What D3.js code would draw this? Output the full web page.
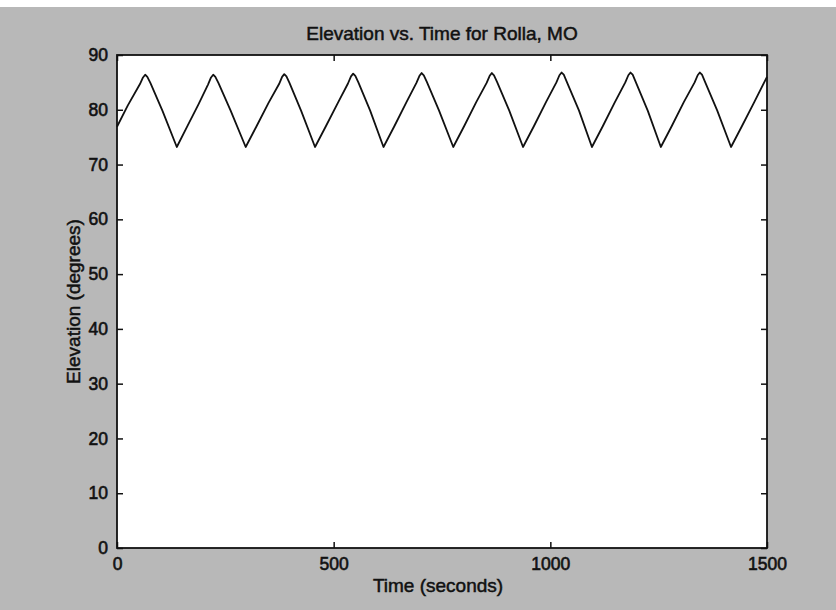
<!DOCTYPE html>
<html>
<head>
<meta charset="utf-8">
<script src="https://cdn.jsdelivr.net/npm/d3@7"></script>
<style>
    body { margin: 0; background: #ffffff; }
    text { font-family: "Liberation Sans", Arial, sans-serif; fill: #111; }
</style>
</head>
<body>
<div id="chart"></div>
<script>
// elevation, seconds vs degrees
var timeSec = [0, 25, 53, 60, 65, 70, 77, 105, 138,
    163, 188, 210, 217, 222, 227, 234, 262, 297,
    322, 350, 374, 381, 386, 391, 398, 425, 457,
    482, 510, 533, 540, 545, 550, 557, 584, 615,
    640, 668, 691, 698, 703, 708, 715, 743, 776,
    801, 829, 853, 860, 865, 870, 877, 905, 937,
    962, 990, 1014, 1021, 1026, 1031, 1038, 1066, 1096,
    1121, 1149, 1173, 1180, 1185, 1190, 1197, 1225, 1255,
    1280, 1308, 1333, 1340, 1345, 1350, 1357, 1385, 1417,
    1442, 1470, 1500];
var elevation = [76.9, 80.8, 84.7, 85.9, 86.4, 86.0, 84.9, 79.8, 73.2,
    77.1, 81.0, 84.6, 85.9, 86.4, 86.0, 84.9, 79.9, 73.2,
    77.0, 81.3, 84.7, 86.0, 86.5, 86.1, 84.9, 79.8, 73.2,
    77.0, 81.3, 84.8, 86.1, 86.6, 86.2, 85.0, 79.9, 73.2,
    77.0, 81.4, 84.9, 86.2, 86.7, 86.3, 85.1, 79.9, 73.2,
    77.0, 81.4, 84.9, 86.2, 86.7, 86.3, 85.1, 79.9, 73.2,
    77.0, 81.4, 85.0, 86.3, 86.8, 86.4, 85.1, 79.9, 73.2,
    77.0, 81.4, 85.0, 86.3, 86.8, 86.4, 85.1, 79.8, 73.2,
    77.0, 81.4, 85.0, 86.3, 86.8, 86.4, 85.1, 79.9, 73.2,
    77.0, 81.3, 86.0];

var xTicks = [0, 500, 1000, 1500];
var yTicks = [0, 10, 20, 30, 40, 50, 60, 70, 80, 90];

var data = timeSec.map(function (t, i) {
    return {t: t, e: elevation[i]};
});

var W = 836, H = 610;
var margin = {top: 55, right: 69, bottom: 62, left: 117},
    width = W - margin.left - margin.right,
    height = H - margin.top - margin.bottom;

var svg = d3.select("#chart")
    .append("svg")
    .attr("width", W)
    .attr("height", H);

// grey figure background (white strip at the very top of the scan)
svg.append("rect")
    .attr("x", 0).attr("y", 7)
    .attr("width", W).attr("height", H - 7)
    .attr("fill", "#b8b8b8");

var g = svg.append("g")
    .attr("transform", "translate(" + margin.left + "," + margin.top + ")");

var x = d3.scaleLinear().domain([0, 1500]).range([0, width]);
var y = d3.scaleLinear().domain([0, 90]).range([height, 0]);

g.append("rect")
    .attr("width", width)
    .attr("height", height)
    .attr("fill", "#ffffff");

// the curve
var line = d3.line()
    .x(function (d) { return x(d.t); })
    .y(function (d) { return y(d.e); });

g.append("path")
    .datum(data)
    .attr("d", line)
    .attr("fill", "none")
    .attr("stroke", "#111")
    .attr("stroke-width", 1.8)
    .attr("stroke-linejoin", "round");

// axes, matlab style ticks pointing in
function styleAxis(sel) {
    sel.select(".domain").remove();
    sel.selectAll(".tick line").attr("stroke", "#111").attr("stroke-width", 1.5);
    sel.selectAll(".tick text")
        .style("font-size", "17.5px")
        .attr("fill", "#111")
        .attr("stroke", "#111")
        .attr("stroke-width", 0.6);
}

g.append("g")
    .attr("transform", "translate(0," + height + ")")
    .call(d3.axisBottom(x).tickValues(xTicks).tickFormat(d3.format("d")).tickSize(-6).tickPadding(10))
    .call(styleAxis);

g.append("g")
    .call(d3.axisLeft(y).tickValues(yTicks).tickSize(-6).tickPadding(9))
    .call(styleAxis);

g.append("g")
    .call(d3.axisTop(x).tickValues(xTicks).tickSize(-6).tickFormat(""))
    .call(styleAxis);

g.append("g")
    .attr("transform", "translate(" + width + ",0)")
    .call(d3.axisRight(y).tickValues(yTicks).tickSize(-6).tickFormat(""))
    .call(styleAxis);

// box
g.append("rect")
    .attr("width", width)
    .attr("height", height)
    .attr("fill", "none")
    .attr("stroke", "#111")
    .attr("stroke-width", 1.8);

// title and labels
svg.append("text")
    .attr("x", margin.left + width / 2)
    .attr("y", 40)
    .attr("text-anchor", "middle")
    .attr("stroke", "#111").attr("stroke-width", 0.5)
    .style("font-size", "19px")
    .text("Elevation vs. Time for Rolla, MO");

svg.append("text")
    .attr("x", margin.left + width / 2 - 4)
    .attr("y", 592)
    .attr("text-anchor", "middle")
    .attr("stroke", "#111").attr("stroke-width", 0.5)
    .style("font-size", "19px")
    .text("Time (seconds)");

svg.append("text")
    .attr("transform", "translate(80," + (margin.top + height / 2) + ") rotate(-90)")
    .attr("text-anchor", "middle")
    .attr("stroke", "#111").attr("stroke-width", 0.5)
    .style("font-size", "19px")
    .text("Elevation (degrees)");
</script>
</body>
</html>
